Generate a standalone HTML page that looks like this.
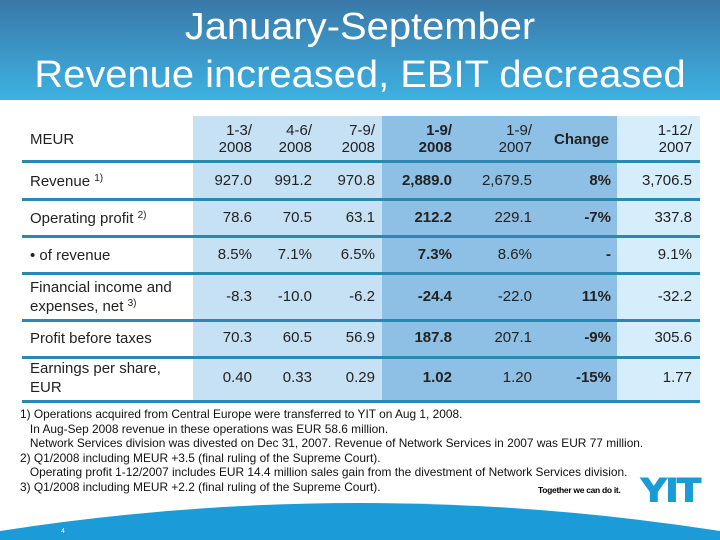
<!DOCTYPE html>
<html><head><meta charset="utf-8"><style>
body{margin:0;width:720px;height:540px;overflow:hidden;background:#fff;font-family:"Liberation Sans",Arial,sans-serif;position:relative}
.a{position:absolute}
#hdr{left:0;top:0;width:720px;height:100px;background:linear-gradient(#3a78a8,#3db2e2)}
.t{color:#fff;font-size:38px;width:720px;text-align:center;left:0;transform:scaleX(1.05);transform-origin:center}
.c{position:absolute;font-size:15px;color:#222;text-align:right;line-height:17px}
.l{position:absolute;font-size:15px;color:#222;line-height:19px;left:30px}
.l sup{font-size:10px;line-height:0;vertical-align:5px}
.b{font-weight:bold}
.hl{position:absolute;left:22px;width:678px;height:3px;background:#2a88b2}
.fn{position:absolute;left:20px;font-size:11.9px;color:#111;line-height:14.6px;top:407px;white-space:pre}
</style></head><body>
<div id="hdr" class="a"></div>
<div class="a t" style="top:6px">January-September</div>
<div class="a t" style="top:54px">Revenue increased, EBIT decreased</div>

<div class="a" style="left:193px;top:116px;width:189px;height:285px;background:#c6e0f4"></div>
<div class="a" style="left:382px;top:116px;width:235px;height:285px;background:#8ebfe4"></div>
<div class="a" style="left:617px;top:116px;width:83px;height:285px;background:#d6edfb"></div>

<div class="hl" style="top:160px"></div>
<div class="hl" style="top:198px"></div>
<div class="hl" style="top:235px"></div>
<div class="hl" style="top:272px"></div>
<div class="hl" style="top:319px"></div>
<div class="hl" style="top:356px"></div>
<div class="hl" style="top:400px"></div>

<div id="tbl"></div>
<script>
const labels=[["MEUR",139],["Revenue <sup>1)</sup>",181],["Operating profit <sup>2)</sup>",218],["• of revenue",255],["Financial income and<br>expenses, net <sup>3)</sup>",297],["Profit before taxes",338],["Earnings per share,<br>EUR",378]];
const cols=[252,312,375,452,532,611,692];
const bold=[false,false,false,true,false,true,false];
const head=["1-3/<br>2008","4-6/<br>2008","7-9/<br>2008","1-9/<br>2008","1-9/<br>2007","Change","1-12/<br>2007"];
const rows=[
["927.0","991.2","970.8","2,889.0","2,679.5","8%","3,706.5"],
["78.6","70.5","63.1","212.2","229.1","-7%","337.8"],
["8.5%","7.1%","6.5%","7.3%","8.6%","-","9.1%"],
["-8.3","-10.0","-6.2","-24.4","-22.0","11%","-32.2"],
["70.3","60.5","56.9","187.8","207.1","-9%","305.6"],
["0.40","0.33","0.29","1.02","1.20","-15%","1.77"]];
const T=document.getElementById('tbl');
labels.forEach((lb,i)=>{const d=document.createElement('div');d.className='l';


d.innerHTML=lb[0];const lines=lb[0].includes('<br>')?2:1;d.style.top=(lb[1]-9.5*lines)+'px';T.appendChild(d);
if(i===0){head.forEach((h,j)=>{const c=document.createElement('div');c.className='c'+(bold[j]?' b':'');


c.innerHTML=h;const two=h.includes('<br>');c.style.top=(two?122:131)+'px';c.style.right=(720-cols[j])+'px';if(j===5){c.style.right=(720-609)+'px'}T.appendChild(c);});}
else{rows[i-1].forEach((v,j)=>{const c=document.createElement('div');c.className='c'+(bold[j]?' b':'');


c.textContent=v;c.style.top=(lb[1]-9)+'px';c.style.right=(720-cols[j])+'px';T.appendChild(c);});}
});
</script>

<div class="fn">1) Operations acquired from Central Europe were transferred to YIT on Aug 1, 2008.
   In Aug-Sep 2008 revenue in these operations was EUR 58.6 million.
   Network Services division was divested on Dec 31, 2007. Revenue of Network Services in 2007 was EUR 77 million.
2) Q1/2008 including MEUR +3.5 (final ruling of the Supreme Court).
   Operating profit 1-12/2007 includes EUR 14.4 million sales gain from the divestment of Network Services division.
3) Q1/2008 including MEUR +2.2 (final ruling of the Supreme Court).</div>

<div class="a" style="left:538px;top:485px;font-size:8.5px;font-weight:bold;color:#000;letter-spacing:-0.3px">Together we can do it.</div>
<div class="a" style="left:641px;top:474px;font-size:32px;font-weight:bold;color:#1a9ad6;line-height:32px;transform:scaleX(1.2);transform-origin:left;-webkit-text-stroke:2px #1a9ad6">YIT</div>

<svg class="a" style="left:0;top:495px" width="720" height="45">
<path d="M0,36 Q360,-20 720,36 L720,45 L0,45 Z" fill="#1b9bd7"/>
</svg>
<div class="a" style="left:61px;top:528px;font-size:7px;color:#fff">4</div>
</body></html>
